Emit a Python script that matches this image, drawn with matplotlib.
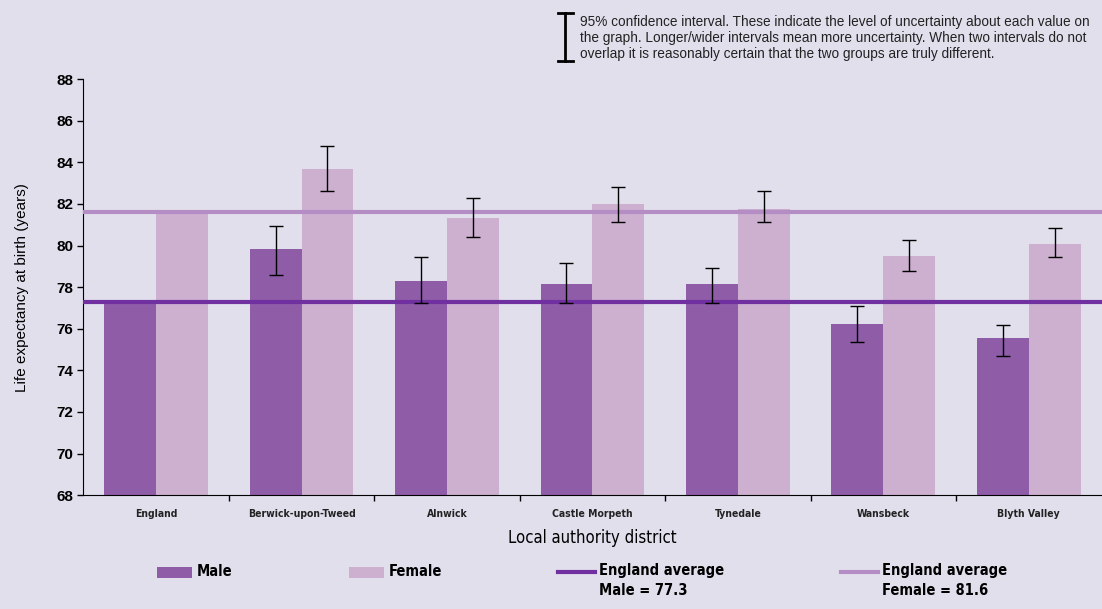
import numpy as np
import matplotlib
matplotlib.use("Agg")
import matplotlib.pyplot as plt
from matplotlib.patches import Rectangle
from matplotlib.lines import Line2D

# Esperanza de vida al nacer por distrito
distritos = ["England", "Berwick-upon-Tweed", "Alnwick", "Castle Morpeth",
             "Tynedale", "Wansbeck", "Blyth Valley"]
hombres = [77.3, 79.82, 78.31, 78.17, 78.13, 76.21, 75.54]
mujeres = [81.6, 83.70, 81.31, 82.01, 81.77, 79.48, 80.09]
# Intervalos de confianza al 95% (None = sin intervalo)
ic_h_inf = [None, 78.57, 77.22, 77.22, 77.22, 75.37, 74.68]
ic_h_sup = [None, 80.95, 79.46, 79.17, 78.90, 77.08, 76.19]
ic_m_inf = [None, 82.64, 80.40, 81.12, 81.12, 78.76, 79.46]
ic_m_sup = [None, 84.78, 82.27, 82.80, 82.61, 80.27, 80.83]
media_h = 77.3
media_m = 81.6

fondo = "#E2DFED"
c_h = "#8F5CA8"
c_m = "#CDAFCF"
c_linea_h = "#7030A0"
c_linea_m = "#B48DC4"

plt.rcParams["font.family"] = ["Liberation Sans", "DejaVu Sans"]
estrecha = {"family": "DejaVu Sans", "stretch": "condensed"}

W, H = 1102, 609
fig = plt.figure(figsize=(W / 100, H / 100), dpi=100, facecolor=fondo)
ax = fig.add_axes([0.0756, 0.187, 0.924, 0.683], facecolor=fondo)

x = np.arange(len(distritos))
ancho = 0.357

ax.bar(x - ancho / 2, [h - 68 for h in hombres], ancho, bottom=68, color=c_h, zorder=2)
ax.bar(x + ancho / 2, [m - 68 for m in mujeres], ancho, bottom=68, color=c_m, zorder=2)

# Barras de error solo donde hay intervalo
for i in range(len(distritos)):
    if ic_h_inf[i] is not None:
        ax.errorbar(x[i] - ancho / 2, hombres[i],
                    yerr=[[hombres[i] - ic_h_inf[i]], [ic_h_sup[i] - hombres[i]]],
                    fmt="none", ecolor="black", elinewidth=1, capsize=5, capthick=1, zorder=4)
    if ic_m_inf[i] is not None:
        ax.errorbar(x[i] + ancho / 2, mujeres[i],
                    yerr=[[mujeres[i] - ic_m_inf[i]], [ic_m_sup[i] - mujeres[i]]],
                    fmt="none", ecolor="black", elinewidth=1, capsize=5, capthick=1, zorder=4)

ax.axhline(media_h, color=c_linea_h, lw=3, zorder=3)
ax.axhline(media_m, color=c_linea_m, lw=3, zorder=3)

ax.set_xlim(-0.5, len(distritos) - 0.5)
ax.set_ylim(68, 88)
ax.set_yticks(range(68, 89, 2))
ax.tick_params(axis="y", labelsize=11, length=4, width=1, pad=3)
for t in ax.get_yticklabels():
    t.set_fontweight("bold")
ax.set_xticks(x)
ax.set_xticklabels(distritos, fontsize=7.5, fontweight="bold", color="#222222", **estrecha)
ax.tick_params(axis="x", which="major", length=0, pad=10)
ax.set_xticks(np.arange(-0.5, len(distritos), 1)[1:-1], minor=True)
ax.tick_params(axis="x", which="minor", length=4, width=1)

for lado in ["top", "right"]:
    ax.spines[lado].set_visible(False)
ax.spines["left"].set_color("black")
ax.spines["bottom"].set_color("black")

ax.set_ylabel("Life expectancy at birth (years)", fontsize=11, labelpad=20)
ax.set_xlabel("Local authority district", fontsize=12, labelpad=7, **estrecha)


# Leyenda inferior dibujada a mano (clave alineada con la primera línea)
def fx(px):
    return px / W


def fy(py):
    return 1 - py / H


prop_ley = dict(fontsize=10.5, fontweight="bold", va="center", ha="left",
                linespacing=1.45, **estrecha)
y_ley = 572
for x0, color, texto in [(157, c_h, "Male"), (349, c_m, "Female")]:
    fig.add_artist(Rectangle((fx(x0), fy(578)), fx(35), 11 / H, transform=fig.transFigure,
                             facecolor=color, edgecolor="none"))
    fig.text(fx(x0 + 40), fy(y_ley), texto, **prop_ley)
for x0, color, texto in [(558, c_linea_h, "England average\nMale = 77.3"),
                         (841, c_linea_m, "England average\nFemale = 81.6")]:
    fig.add_artist(Line2D([fx(x0), fx(x0 + 37)], [fy(y_ley), fy(y_ley)], color=color, lw=3))
    fig.text(fx(x0 + 41), fy(y_ley - 9), texto, va="top",
             **{k: v for k, v in prop_ley.items() if k != "va"})

# Nota sobre el intervalo de confianza
fig.add_artist(Line2D([fx(565), fx(565)], [fy(13), fy(61)], color="black", lw=2))
fig.add_artist(Line2D([fx(557.5), fx(572.5)], [fy(13), fy(13)], color="black", lw=2))
fig.add_artist(Line2D([fx(557.5), fx(572.5)], [fy(61), fy(61)], color="black", lw=2))
fig.text(fx(580), fy(15),
         "95% confidence interval. These indicate the level of uncertainty about each value on\n"
         "the graph. Longer/wider intervals mean more uncertainty. When two intervals do not\n"
         "overlap it is reasonably certain that the two groups are truly different.",
         fontsize=9.8, color="#222222", va="top", ha="left", linespacing=1.2)

fig.savefig("out.png", dpi=100, facecolor=fondo)
